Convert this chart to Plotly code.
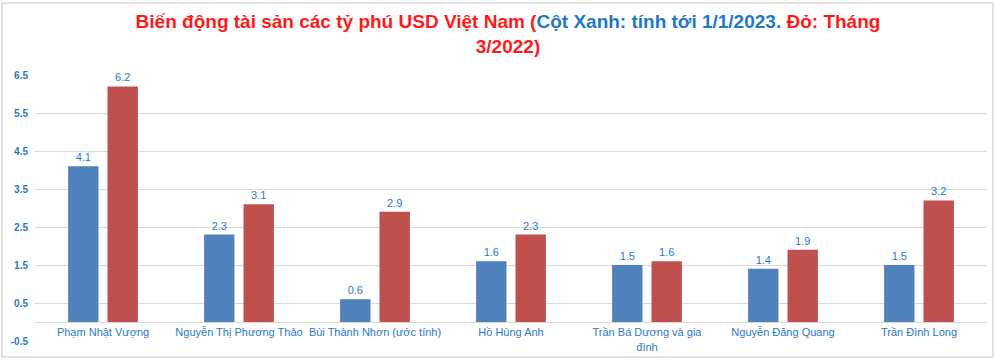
import plotly.graph_objects as go

categories = ["Phạm Nhật Vượng", "Nguyễn Thị Phương Thảo", "Bùi Thành Nhơn (ước tính)",
              "Hồ Hùng Anh", "Trần Bá Dương và gia<br>đình", "Nguyễn Đăng Quang", "Trần Đình Long"]
blue_values = [4.1, 2.3, 0.6, 1.6, 1.5, 1.4, 1.5]
red_values = [6.2, 3.1, 2.9, 2.3, 1.6, 1.9, 3.2]
y_ticks = [-0.5, 0.5, 1.5, 2.5, 3.5, 4.5, 5.5, 6.5]

LBL = "#2a78c8"
FONT = "Liberation Sans, Arial, sans-serif"

fig = go.Figure()
fig.add_bar(x=categories, y=blue_values, marker_color="#4f81bd", marker_line_width=0,
            text=[f"{v:.1f}" for v in blue_values], textposition="outside",
            textfont=dict(color=LBL, size=11, family=FONT), cliponaxis=False)
fig.add_bar(x=categories, y=red_values, marker_color="#c0504d", marker_line_width=0,
            text=[f"{v:.1f}" for v in red_values], textposition="outside",
            textfont=dict(color=LBL, size=11, family=FONT), cliponaxis=False)

title_text = ("<b><span style='color:#ff1a1a'>Biến động tài sản các tỷ phú USD Việt Nam (</span>"
              "<span style='color:#1f78c8'>Cột Xanh: tính tới 1/1/2023.</span>"
              "<span style='color:#ff1a1a'> Đỏ: Tháng<br>3/2022)</span></b>")

ymin, ymax = -0.5, 6.5
fig.update_layout(
    width=1000, height=361,
    margin=dict(l=35, r=13, t=75, b=20, autoexpand=False),
    paper_bgcolor="white", plot_bgcolor="white",
    showlegend=False,
    barmode="group", bargap=0.42, bargroupgap=0.23,
    title=dict(text=title_text, x=0.508, xanchor="center", y=1 - 28/361, yanchor="middle",
               font=dict(family=FONT, size=19)),
    xaxis=dict(anchor="free", position=(0 - ymin) / (ymax - ymin), automargin=False,
               showline=True, linecolor="#d9d9d9", linewidth=1, tickangle=0,
               ticks="", tickfont=dict(color=LBL, size=11, family=FONT),
               showgrid=False),
    yaxis=dict(range=[ymin, ymax], tickvals=y_ticks,
               ticktext=[f"<b>{v:.1f}</b>" for v in y_ticks],
               showgrid=True, gridcolor="#d9d9d9", gridwidth=1, zeroline=False, automargin=False,
               tickfont=dict(color=LBL, size=10, family=FONT),
               ticklabelstandoff=6),
    shapes=[dict(type="rect", xref="paper", yref="paper",
                 x0=-33/952, x1=1 + 6/952, y0=-16/266, y1=1 + 72/266,
                 line=dict(color="#d9d9d9", width=1.5), fillcolor="rgba(0,0,0,0)", layer="below")],
)
fig.write_html("out.html", config={"displayModeBar": False},
               post_script="document.body.style.margin='0';document.body.style.overflow='hidden';")
